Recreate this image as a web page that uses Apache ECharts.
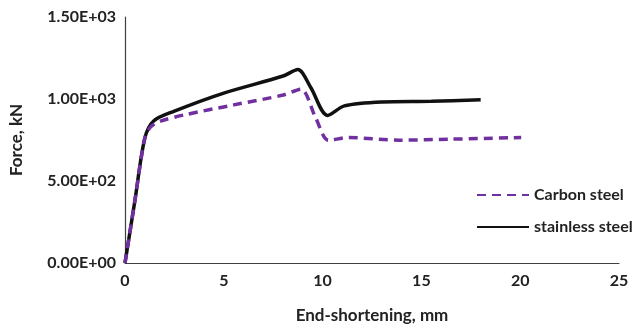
<!DOCTYPE html>
<html>
<head>
<meta charset="utf-8">
<script src="https://cdn.jsdelivr.net/npm/echarts@6/dist/echarts.min.js"></script>
<style>
html,body{margin:0;padding:0;background:#fff}
#chart{width:641px;height:329px}
</style>
</head>
<body>
<div id="chart"></div>
<script>
// 端部缩短 (mm) vs 力 (kN)
var carbonSteel = [
    [0, 0], [0.5, 380], [1.0, 760], [1.3, 830], [1.8, 865], [3.0, 903], [5.5, 964],
    [8.0, 1024], [8.9, 1060], [9.65, 885], [10.3, 748], [11.3, 765], [13.9, 749],
    [16.4, 755], [20.05, 765]
]
var stainlessSteel = [
    [0, 0], [0.5, 380], [1.0, 760], [1.45, 866], [2.5, 926], [5.0, 1036], [8.0, 1140],
    [8.75, 1180], [9.4, 1070], [10.25, 900], [11.1, 958], [13.0, 982], [15.5, 986],
    [18.0, 995]
]
var yTicks = [0, 500, 1000, 1500]

var myChart = echarts.init(document.getElementById('chart'))
var font = 'Lato, "Open Sans", sans-serif'
var option = {
    animation: false,
    grid: {left: 121, right: 22, top: 17, bottom: 61},
    legend: {
        orient: 'vertical',
        left: 471,
        top: 182,
        itemWidth: 52,
        itemHeight: 14,
        itemGap: 16,
        itemStyle: {opacity: 0},
        textStyle: {fontFamily: font, fontWeight: 'bold', fontSize: 16, color: '#222'},
        data: ['Carbon steel', 'stainless steel']
    },
    xAxis: {
        type: 'value',
        min: 0, max: 25, interval: 5,
        name: 'End-shortening, mm',
        nameLocation: 'middle',
        nameGap: 44,
        nameTextStyle: {fontFamily: font, fontWeight: 'bold', fontSize: 17, color: '#222'},
        axisLine: {lineStyle: {color: '#404040', width: 1.2}},
        axisTick: {show: false},
        splitLine: {show: false},
        axisLabel: {fontFamily: font, fontWeight: 'bold', fontSize: 16, color: '#222', margin: 10}
    },
    yAxis: {
        type: 'value',
        min: 0, max: 1500, interval: 500,
        name: 'Force, kN',
        nameLocation: 'middle',
        nameGap: 100,
        nameTextStyle: {fontFamily: font, fontWeight: 'bold', fontSize: 17, color: '#222'},
        axisLine: {show: true, lineStyle: {color: '#404040', width: 1.2}},
        axisTick: {show: false},
        splitLine: {show: false},
        axisLabel: {
            fontFamily: font, fontWeight: 'bold', fontSize: 16, color: '#222', margin: 9,
            formatter: function (v) {
                if (yTicks.indexOf(v) < 0) return ''
                return v.toExponential(2).replace(/e\+(\d)$/, 'E+0$1')
            }
        }
    },
    series: [
        {
            name: 'Carbon steel',
            type: 'line',
            data: carbonSteel,
            symbol: 'none',
            smooth: 0.3,
            z: 3,
            lineStyle: {color: '#7030A0', width: 3.5, type: [9, 6]},
            itemStyle: {color: '#7030A0'}
        },
        {
            name: 'stainless steel',
            type: 'line',
            data: stainlessSteel,
            symbol: 'none',
            smooth: 0.3,
            z: 2,
            lineStyle: {color: '#111', width: 3.5},
            itemStyle: {color: '#111'}
        }
    ]
}
myChart.setOption(option)
</script>
</body>
</html>
